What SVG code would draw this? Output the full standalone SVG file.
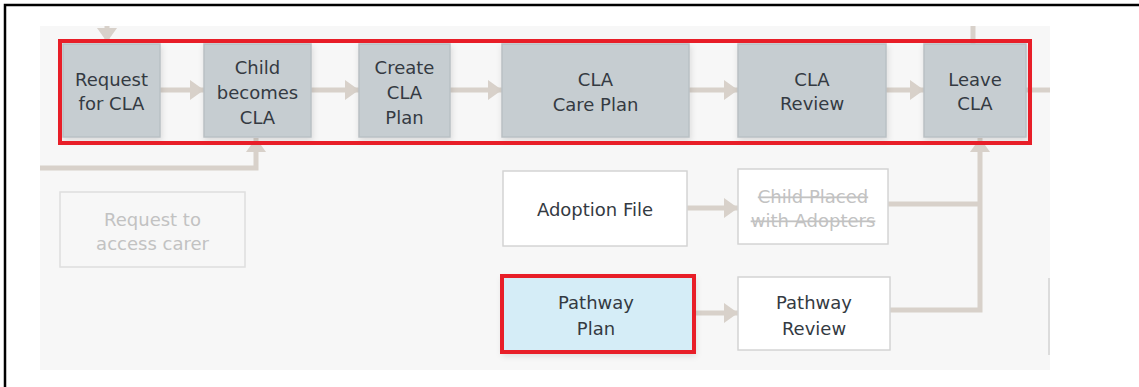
<svg xmlns="http://www.w3.org/2000/svg" width="1139" height="387" viewBox="0 0 1139 387">
  <defs>
    <marker id="ah" markerUnits="userSpaceOnUse" viewBox="0 0 14 20" refX="14" refY="10" markerWidth="14" markerHeight="20" orient="auto">
      <path d="M0,0 L14,10 L0,20 z" fill="#d8d1ca"/>
    </marker>
    <filter id="sh" x="-10%" y="-10%" width="125%" height="130%">
      <feDropShadow dx="1" dy="3" stdDeviation="3" flood-color="#000" flood-opacity="0.12"/>
    </filter>
    <style>
      .main rect{fill:#c6cdd1;stroke:#b9c0c4;stroke-width:1.5;filter:url(#sh)}
      .white rect{fill:#ffffff;stroke:#d4d4d4;stroke-width:1.5}
      text{font-family:"DejaVu Sans","Liberation Sans",sans-serif;font-size:18px;fill:#343a42;text-anchor:middle}
      .faint text{fill:#c2c2c2}
      .conn{fill:none;stroke:#d8d1ca;stroke-width:5}
      .hl{fill:none;stroke:#e81e28;stroke-width:4}
    </style>
  </defs>
  <rect x="0" y="0" width="1139" height="387" fill="#ffffff"/>
  <path d="M5,387 V5 H1139" fill="none" stroke="#000" stroke-width="2.5"/>
  <rect x="40" y="26" width="1010" height="344" fill="#f7f7f7"/>
  <line x1="1049" y1="278" x2="1049" y2="355" stroke="#dcdcdc" stroke-width="2"/>

  <g id="connectors">
    <line class="conn" x1="107" y1="26" x2="107" y2="42" marker-end="url(#ah)"/>
    <line class="conn" x1="160" y1="90" x2="204" y2="90" marker-end="url(#ah)"/>
    <line class="conn" x1="311" y1="90" x2="359" y2="90" marker-end="url(#ah)"/>
    <line class="conn" x1="450" y1="90" x2="502" y2="90" marker-end="url(#ah)"/>
    <line class="conn" x1="689" y1="90" x2="738" y2="90" marker-end="url(#ah)"/>
    <line class="conn" x1="886" y1="90" x2="924" y2="90" marker-end="url(#ah)"/>
    <line class="conn" x1="1026" y1="90" x2="1050" y2="90"/>
    <line class="conn" x1="973" y1="26" x2="973" y2="44"/>
    <polyline class="conn" points="40,168 256,168 256,138" marker-end="url(#ah)"/>
    <line class="conn" x1="687" y1="208" x2="738" y2="208" marker-end="url(#ah)"/>
    <line class="conn" x1="888" y1="204" x2="980" y2="204"/>
    <line class="conn" x1="696" y1="313" x2="738" y2="313" marker-end="url(#ah)"/>
    <polyline class="conn" points="890,310 980,310 980,138" marker-end="url(#ah)"/>
  </g>

  <g id="request-for-cla" class="main">
    <rect x="63" y="44" width="97" height="93"/>
    <text x="111.5" y="86">Request</text>
    <text x="111.5" y="110">for CLA</text>
  </g>
  <g id="child-becomes-cla" class="main">
    <rect x="204" y="44" width="107" height="93"/>
    <text x="257.5" y="74">Child</text>
    <text x="257.5" y="99">becomes</text>
    <text x="257.5" y="124">CLA</text>
  </g>
  <g id="create-cla-plan" class="main">
    <rect x="359" y="44" width="91" height="93"/>
    <text x="404.5" y="74">Create</text>
    <text x="404.5" y="99">CLA</text>
    <text x="404.5" y="124">Plan</text>
  </g>
  <g id="cla-care-plan" class="main">
    <rect x="502" y="44" width="187" height="93"/>
    <text x="595.5" y="86">CLA</text>
    <text x="595.5" y="111">Care Plan</text>
  </g>
  <g id="cla-review" class="main">
    <rect x="738" y="44" width="148" height="93"/>
    <text x="812" y="86">CLA</text>
    <text x="812" y="110">Review</text>
  </g>
  <g id="leave-cla" class="main">
    <rect x="924" y="44" width="102" height="93"/>
    <text x="975" y="86">Leave</text>
    <text x="975" y="110">CLA</text>
  </g>

  <g id="request-to-access-carer" class="faint">
    <rect x="60" y="192" width="185" height="75" fill="#f7f7f7" stroke="#dedede" stroke-width="1.5"/>
    <text x="152.5" y="226">Request to</text>
    <text x="152.5" y="250">access carer</text>
  </g>
  <g id="adoption-file" class="white">
    <rect x="503" y="171" width="184" height="75"/>
    <text x="595" y="216">Adoption File</text>
  </g>
  <g id="child-placed-with-adopters" class="white faint">
    <rect x="738" y="169" width="150" height="75"/>
    <text x="813" y="203" text-decoration="line-through">Child Placed</text>
    <text x="813" y="227" text-decoration="line-through">with Adopters</text>
  </g>
  <g id="pathway-plan">
    <rect x="502" y="276" width="192" height="76" fill="#d5edf7" stroke="#a8d2e5" stroke-width="1.5" filter="url(#sh)"/>
    <text x="596" y="309">Pathway</text>
    <text x="596" y="335">Plan</text>
  </g>
  <g id="pathway-review" class="white">
    <rect x="738" y="277" width="152" height="73"/>
    <text x="814" y="309">Pathway</text>
    <text x="814" y="335">Review</text>
  </g>

  <g id="highlights">
    <rect class="hl" x="60" y="41" width="970" height="102"/>
    <rect class="hl" x="502" y="276" width="192" height="76"/>
  </g>
</svg>
